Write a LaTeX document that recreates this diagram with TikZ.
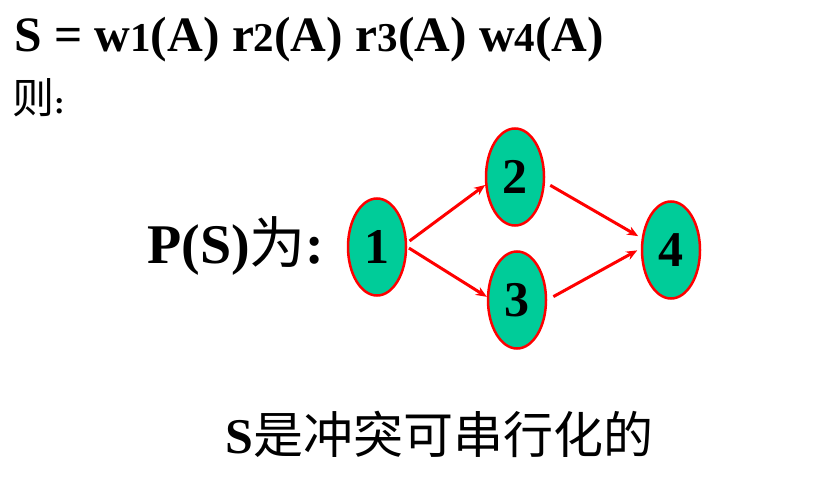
\documentclass[tikz,border=0pt]{standalone}
\usepackage{fontspec}
\setmainfont{Liberation Serif}
\newfontfamily\cjk{Noto Sans CJK SC}
\usetikzlibrary{calc,shapes.geometric,arrows.meta}
\definecolor{vgreen}{RGB}{0,204,153}
\newcommand{\dg}[1]{{\fontsize{41}{41}\selectfont #1}}

\begin{document}
\begin{tikzpicture}[x=1pt,y=-1pt,
    vtx/.style={draw=red,line width=2.5pt,fill=vgreen,shape=ellipse,
      minimum width=58pt,minimum height=97pt,inner sep=0pt,
      font=\fontsize{50}{50}\selectfont\bfseries},
    arr/.style={draw=red,line width=3pt,-{Stealth[length=11pt,width=9pt]}},
    txt/.style={anchor=base west,inner sep=0pt}]
          \useasboundingbox (0,0) rectangle (818,494);
          \draw node[txt,font=\fontsize{49.5}{49.5}\selectfont\bfseries] (T0) %
          at (14,52) {S = w\dg{1}(A) r\dg{2}(A) r\dg{3}(A) w\dg{4}(A)};
          \draw node[txt,font=\fontsize{42}{42}\selectfont] (T1) at %
          (12,114) {{\cjk 则}{\fontsize{32}{32}\selectfont\bfseries:}};
          \draw node[txt,font=\fontsize{56}{56}\selectfont\bfseries] (T2) %
          at (147,263) {P(S){\cjk\mdseries 为}:};
          \draw node[txt,font=\fontsize{50}{50}\selectfont] (T3) at %
          (225,453) {\textbf{S}{\cjk 是冲突可串行化的}};
          \draw node[vtx] (V1) at (377,247) {1};
          \draw node[vtx] (V2) at (515,177) {2};
          \draw node[vtx] (V3) at (517,300) {3};
          \draw node[vtx] (V4) at (671,250) {4};
          \draw[arr,shorten <=3pt] (V1.8) -- (V2.195);
          \draw[arr,shorten <=2pt] (V1.0) -- (V3.174);
          \draw[arr,shorten <=6pt,shorten >=4pt] (V2.-10) -- (V4.158);
          \draw[arr,shorten <=7pt,shorten >=4pt] (V3.0) -- (V4.177);
        \end{tikzpicture}
\end{document}
